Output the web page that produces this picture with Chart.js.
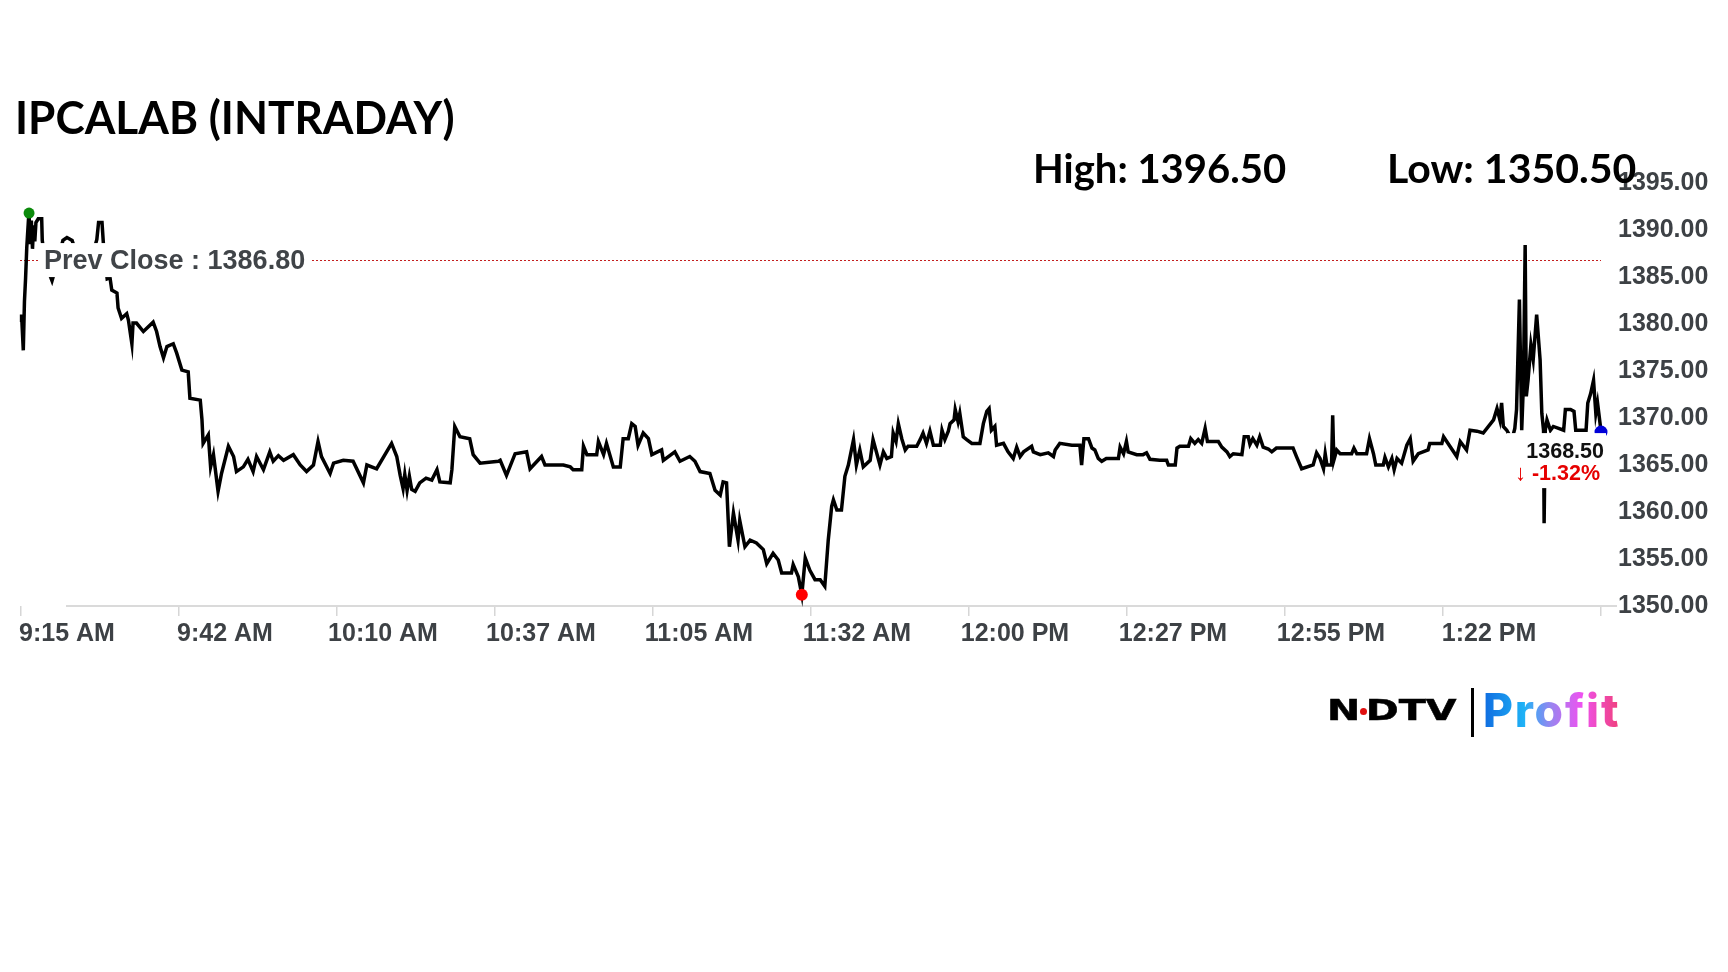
<!DOCTYPE html>
<html><head><meta charset="utf-8">
<script src="https://cdn.jsdelivr.net/npm/chart.js@4/dist/chart.umd.min.js"></script>
<style>
html,body{margin:0;padding:0;background:#fff;}
#wrap{position:relative;width:1728px;height:972px;overflow:hidden;background:#fff;}
#c{position:absolute;left:0;top:0;}
.t{position:absolute;white-space:nowrap;line-height:1;}
#title{left:15px;top:94px;font-family:Lato,sans-serif;font-weight:700;font-size:46px;color:#000;transform:scaleX(0.96);transform-origin:0 0;}
#high{left:1033px;top:148px;font-family:Lato,sans-serif;font-weight:700;font-size:40px;color:#000;}
#low{left:1387px;top:148px;font-family:Lato,sans-serif;font-weight:700;font-size:40px;color:#000;transform:scaleX(1.025);transform-origin:0 0;}
#ndtv{left:1327px;top:696px;font-family:'DejaVu Sans',sans-serif;font-weight:700;font-size:29px;color:#000;transform:scaleX(1.37);transform-origin:0 0;-webkit-text-stroke:0.5px #000;}
#ndtv .gap{display:inline-block;width:4px;}
#ndot{position:absolute;left:1360px;top:707.5px;width:7px;height:7px;border-radius:50%;background:#e01010;}
#bar{position:absolute;left:1471px;top:688px;width:2.5px;height:49px;background:#000;}
#profit{left:1483px;top:687px;font-family:Inter,sans-serif;font-weight:800;font-size:46px;letter-spacing:1.8px;
 background:linear-gradient(90deg,#0f6be0 0%,#1fb2f6 30%,#9a84f0 50%,#ee52f0 72%,#f0407a 100%);
 -webkit-background-clip:text;background-clip:text;color:transparent;}
</style></head>
<body><div id="wrap">
<canvas id="c" width="1728" height="972"></canvas>
<div class="t" id="title"></div>
<div class="t" id="high"></div>
<div class="t" id="low"></div>
<div class="t" id="ndtv">N<span class="gap"></span>DTV</div>
<div id="ndot"></div>
<div id="bar"></div>
<div class="t" id="profit">Profit</div>
</div>
<script>
// ---- data ----
const symbolName = "IPCALAB";
const dayHigh = 1396.50;
const dayLow = 1350.50;
const prevClose = 1386.80;
const lastPrice = 1368.50;
const changePct = -1.32;

const xTickLabels = ["9:15 AM","9:42 AM","10:10 AM","10:37 AM","11:05 AM","11:32 AM","12:00 PM","12:27 PM","12:55 PM","1:22 PM"];
const yTickValues = [1350,1355,1360,1365,1370,1375,1380,1385,1390,1395];

// minutes after 9:15 AM
const minutes = [
0.0,0.1,0.4,0.6,0.8,1.0,1.3,1.4,1.6,1.8,2.0,2.2,2.4,2.6,3.0,3.6,3.7,4.2,5.4,6.3,7.3,8.0,8.9,9.9,11.1,12.4,13.2,13.5,14.1,14.4,15.0,
15.5,15.8,16.7,16.9,17.5,18.4,18.7,19.3,19.5,20.1,21.3,23.0,23.6,24.2,24.8,25.4,26.5,27.1,28.0,29.1,29.4,31.2,31.5,31.7,32.6,33.0,33.5,34.3,34.9,
36.1,37.0,37.5,38.7,39.5,40.4,41.0,42.2,43.3,43.9,44.8,45.7,47.4,48.6,49.7,50.9,51.7,52.3,53.8,54.4,56.1,57.8,59.6,60.2,61.9,64.5,65.4,66.0,66.5,
66.8,67.2,67.6,68.0,68.6,69.4,70.5,71.5,72.4,72.9,74.7,75.0,75.5,76.4,78.1,78.7,79.9,83.1,
83.4,84.5,86.0,88.0,88.6,90.6,91.2,94.4,95.6,96.1,97.6,97.9,98.5,100.2,100.5,101.4,101.9,103.1,104.3,104.8,105.7,106.3,106.9,107.4,108.3,109.2,109.8,
111.5,111.8,113.8,114.7,116.4,117.3,118.2,119.9,120.8,121.7,122.2,122.8,123.3,124.0,124.8,125.1,126.0,126.9,128.0,129.2,129.8,130.9,131.8,132.4,
134.1,134.4,135.3,135.9,136.5,137.3,138.2,139.1,139.9,140.5,141.1,141.4,142.0,142.8,143.4,144.0,144.9,145.4,146.0,146.6,147.8,148.3,149.5,
150.1,150.7,151.5,151.8,152.3,152.7,153.3,153.9,154.4,155.9,156.5,157.0,157.6,158.2,158.8,160.0,160.3,160.8,161.4,161.7,162.4,162.6,163.1,163.4,
164.0,164.6,165.5,166.9,167.5,168.1,168.5,168.9,169.5,169.8,171.0,171.8,172.7,173.3,173.9,174.5,175.9,176.2,177.4,178.8,179.7,180.0,180.8,182.9,
184.3,184.6,185.0,185.8,186.4,186.9,187.5,188.1,188.9,191.0,191.3,191.9,192.4,192.7,194.2,195.3,195.9,196.5,198.2,
199.4,199.7,200.9,201.2,201.7,203.2,203.6,204.3,204.9,205.5,206.1,206.5,208.4,209.0,209.9,210.4,211.0,212.5,212.9,213.6,213.9,214.4,215.1,215.6,
216.2,217.1,217.7,218.5,221.4,222.0,222.9,224.9,225.5,226.1,226.7,227.0,227.3,228.1,228.3,228.5,229.0,229.6,231.6,232.0,232.5,234.2,234.7,235.4,
235.8,237.1,237.4,238.0,238.6,239.0,239.5,240.3,241.2,241.8,
242.3,243.2,244.9,245.2,247.3,247.6,248.7,249.9,250.5,251.6,252.2,253.4,254.5,256.3,256.9,257.4,257.7,258.0,258.6,259.5,260.0,260.3,260.8,261.2,
261.5,261.8,262.0,262.3,262.8,263.2,263.8,264.4,264.7,265.0,265.1,265.3,265.6,266.2,266.7,268.5,268.8,269.7,270.3,270.6,272.4,272.7,273.2,273.7,
274.1,274.4,274.9,275.0
];
const prices = [
1380.2,1381.0,1377.2,1382.4,1384.9,1388.1,1391.1,1391.8,1388.5,1391.0,1388.0,1390.5,1388.8,1390.8,1391.2,1391.2,1388.9,1386.5,1384.6,1386.5,1388.9,1389.2,1388.9,1387.0,1386.0,1387.2,1389.0,1390.8,1390.8,1388.0,1384.8,
1384.9,1383.6,1383.3,1381.7,1380.6,1381.1,1380.4,1377.9,1380.1,1380.1,1379.2,1380.2,1379.2,1377.6,1376.4,1377.6,1377.9,1376.9,1375.1,1374.9,1372.1,1371.9,1369.8,1367.3,1368.2,1364.8,1366.1,1362.2,1364.1,
1367.0,1365.9,1364.3,1364.8,1365.6,1364.3,1365.9,1364.5,1366.4,1365.4,1366.0,1365.5,1366.1,1365.0,1364.3,1365.0,1367.5,1365.9,1364.1,1365.2,1365.5,1365.4,1363.1,1365.0,1364.6,1367.3,1365.9,1363.9,1362.5,
1364.0,1362.3,1363.8,1362.4,1362.2,1363.1,1363.6,1363.4,1364.5,1363.2,1363.1,1364.5,1369.1,1368.0,1367.8,1366.1,1365.2,1365.4,
1365.5,1363.9,1366.2,1366.4,1364.6,1365.9,1365.0,1365.0,1364.8,1364.5,1364.5,1367.0,1366.1,1366.1,1367.5,1366.1,1367.3,1364.8,1364.8,1367.8,1367.8,1369.4,1369.1,1367.1,1368.4,1367.8,1366.1,
1366.6,1365.5,1366.4,1365.4,1365.9,1365.4,1364.3,1364.1,1362.3,1361.8,1363.2,1363.1,1356.3,1359.9,1357.0,1359.1,1356.3,1357.0,1356.7,1356.0,1354.5,1355.6,1354.9,1353.5,
1353.5,1354.4,1353.1,1351.2,1355.1,1353.8,1352.8,1352.8,1352.1,1357.0,1360.6,1361.3,1360.2,1360.2,1363.8,1365.0,1367.7,1365.0,1366.6,1364.8,1365.5,1367.7,1365.0,
1366.4,1365.7,1365.9,1368.4,1367.5,1369.4,1367.8,1366.6,1367.0,1367.0,1367.7,1368.4,1367.3,1368.6,1367.1,1367.1,1368.7,1367.7,1368.6,1369.4,1369.8,1370.9,1369.6,1370.5,
1368.0,1367.7,1367.3,1367.3,1369.4,1370.7,1371.0,1368.7,1369.1,1367.1,1367.3,1366.4,1365.7,1366.9,1365.9,1366.4,1367.0,1366.4,1366.1,1366.3,1365.9,1366.6,1367.3,1367.1,
1367.1,1365.0,1367.8,1367.8,1366.8,1366.6,1365.7,1365.4,1365.7,1365.7,1366.9,1366.2,1367.5,1366.4,1366.1,1366.1,1366.3,1365.6,1365.5,
1365.5,1365.0,1365.0,1366.8,1367.0,1367.0,1367.8,1367.3,1367.7,1367.3,1368.9,1367.5,1367.5,1366.9,1366.4,1365.9,1366.2,1366.1,1368.0,1368.0,1367.2,1367.8,1367.1,1368.0,
1366.9,1366.7,1366.4,1366.8,1366.8,1365.9,1364.6,1365.0,1366.3,1365.7,1364.6,1366.2,1365.0,1365.0,1370.3,1365.5,1366.6,1366.2,1366.2,1366.8,1366.2,1366.2,1367.8,1366.2,
1365.0,1365.0,1365.8,1364.8,1365.7,1364.5,1365.7,1365.2,1367.1,1367.8,
1365.4,1366.2,1366.6,1367.3,1367.3,1368.0,1367.0,1365.9,1367.5,1366.6,1368.7,1368.6,1368.4,1369.8,1371.0,1369.8,1371.6,1369.1,1368.7,1367.7,1368.9,1370.9,1382.6,1368.7,
1373.7,1388.4,1372.3,1374.0,1377.8,1376.2,1381.0,1376.2,1370.5,1368.7,1358.8,1368.7,1369.8,1368.7,1369.1,1368.7,1370.9,1370.9,1370.7,1368.7,1368.7,1371.6,1372.6,1374.0,
1370.5,1371.6,1369.1,1368.5
];
const highMarker = [{x:1.4, y:1391.8}];
const lowMarker = [{x:135.9, y:1351.2}];
const lastMarker = [{x:275.0, y:1368.5}];

// ---- text ----
document.getElementById('title').textContent = symbolName + ' (INTRADAY)';
document.getElementById('high').textContent = 'High: ' + dayHigh.toFixed(2);
document.getElementById('low').textContent = 'Low: ' + dayLow.toFixed(2);

const FONT = "'Liberation Sans', Arial, sans-serif";
const LABEL_COLOR = '#3d4145';
const series = minutes.map((m,i)=>({x:m, y:prices[i]}));

const refPlugin = {
  id:'ref',
  beforeDatasetsDraw(chart){
    const {ctx, chartArea:a, scales:{x,y}} = chart;
    const yb = y.getPixelForValue(yTickValues[0]);
    ctx.save();
    ctx.strokeStyle = '#dadada'; ctx.lineWidth = 2;
    ctx.beginPath(); ctx.moveTo(a.left+45, yb); ctx.lineTo(a.right+16, yb); ctx.stroke();
    const py = Math.round(y.getPixelForValue(prevClose)) + 0.5;
    ctx.strokeStyle = '#c41e1e'; ctx.lineWidth = 1; ctx.setLineDash([2,2]);
    ctx.beginPath(); ctx.moveTo(a.left-1, py); ctx.lineTo(a.right, py); ctx.stroke();
    ctx.restore();
  },
  afterDatasetsDraw(chart){
    const {ctx, chartArea:a, scales:{x,y}} = chart;
    ctx.save();
    // prev close label
    const py = y.getPixelForValue(prevClose);
    const txt = 'Prev Close : ' + prevClose.toFixed(2);
    ctx.font = 'bold 27px ' + FONT;
    const w = ctx.measureText(txt).width;
    const tx = a.left + 23;
    ctx.fillStyle = '#fff';
    ctx.fillRect(tx-6, py-17, w+12, 34);
    ctx.fillStyle = '#404448';
    ctx.textBaseline = 'middle'; ctx.textAlign = 'left';
    ctx.fillText(txt, tx, py+1.5);
    // last price label
    const lx = x.getPixelForValue(lastMarker[0].x);
    const ly = y.getPixelForValue(lastPrice);
    ctx.fillStyle = '#fff';
    ctx.fillRect(lx-94, ly+1, 99, 55);
    ctx.textAlign = 'right';
    ctx.font = 'bold 21.5px ' + FONT;
    ctx.fillStyle = '#111';
    ctx.fillText(lastPrice.toFixed(2), lx+3, ly+20);
    ctx.fillStyle = '#e60000';
    const pct = changePct.toFixed(2) + '%';
    ctx.fillText(pct, lx-1, ly+42);
    const pw = ctx.measureText(pct).width;
    ctx.font = 'bold 22px ' + FONT;
    ctx.fillText('\u2193', lx-1-pw-6, ly+42);
    ctx.restore();
  }
};

new Chart(document.getElementById('c'), {
  type:'line',
  data:{datasets:[
    {type:'scatter', data:highMarker, pointRadius:5.5, pointBackgroundColor:'#0b8a0b', pointBorderWidth:0, showLine:false, clip:false},
    {type:'scatter', data:lowMarker, pointRadius:6, pointBackgroundColor:'#ff0000', pointBorderWidth:0, showLine:false, clip:false},
    {type:'scatter', data:lastMarker, pointRadius:6.5, pointBackgroundColor:'#0000d8', pointBorderWidth:0, showLine:false, clip:false},
    {data:series, borderColor:'#000', borderWidth:3.5, pointRadius:0, tension:0, fill:false, clip:false, borderJoinStyle:'miter'}
  ]},
  options:{
    responsive:false, animation:false, devicePixelRatio:1,
    layout:{padding:{left:21, top:183, right:0, bottom:0}},
    plugins:{legend:{display:false}, tooltip:{enabled:false}, title:{display:false}},
    scales:{
      x:{type:'linear', min:0, max:275,
        afterFit(s){ s.height = 366; s.paddingLeft = 0; s.paddingRight = 0; },
        ticks:{stepSize:27.5, autoSkip:false, maxRotation:0, minRotation:0, labelOffset:46, padding:3,
          color:LABEL_COLOR, font:{family:FONT, size:25, weight:'bold'},
          callback:(v,i)=> (xTickLabels[i] !== undefined ? xTickLabels[i] : '')},
        grid:{display:true, drawOnChartArea:false, drawTicks:true, tickLength:10, color:'#d6d6d6', lineWidth:1.5},
        border:{display:false}},
      y:{position:'right', min:yTickValues[0], max:yTickValues[yTickValues.length-1],
        afterFit(s){ s.width = 127; s.paddingTop = 0; s.paddingBottom = 0; },
        afterBuildTicks(s){ s.ticks = yTickValues.map(v=>({value:v})); },
        ticks:{padding:17, color:LABEL_COLOR, font:{family:FONT, size:25, weight:'bold'},
          callback:v=>Number(v).toFixed(2)},
        grid:{display:false, drawTicks:false}, border:{display:false}}
    }
  },
  plugins:[refPlugin]
});
</script>
</body></html>
